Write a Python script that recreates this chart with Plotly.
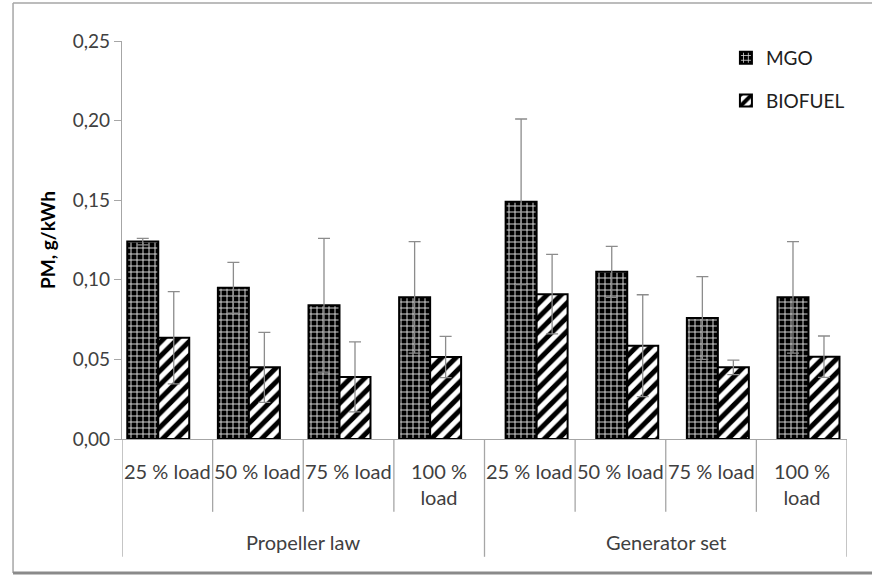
import plotly.graph_objects as go

# ---- data ----
groups = ["Propeller law", "Generator set"]
loads = ["25 % load", "50 % load", "75 % load", "100 %<br>load"]
categories = [f"{g}|{l}" for g in groups for l in loads]
category_labels = loads * 2

mgo = [0.124, 0.095, 0.084, 0.089, 0.149, 0.105, 0.076, 0.089]
mgo_err = [0.002, 0.016, 0.042, 0.035, 0.052, 0.016, 0.026, 0.035]
bio = [0.0636, 0.045, 0.039, 0.0515, 0.091, 0.0586, 0.045, 0.0517]
bio_err = [0.029, 0.022, 0.022, 0.013, 0.025, 0.032, 0.0046, 0.013]

y_ticks = [0, 0.05, 0.10, 0.15, 0.20, 0.25]

FONT = "Lato"
TXT = "#404040"
AX = "#a6a6a6"

n = len(categories)
xpos = list(range(n))

# bar placement (style): width per bar and slight per-group shift as in the original
BW = 0.342
shift = [-0.10 if i < 4 else 0.075 for i in range(n)]
off_mgo = [s - BW for s in shift]
off_bio = [s for s in shift]

fig = go.Figure()
fig.add_trace(go.Bar(
    x=xpos, y=mgo, name="MGO", legendgroup="mgo",
    width=BW, offset=off_mgo,
    marker=dict(color="black", line=dict(color="black", width=2),
                pattern=dict(shape="+", fgcolor="#d8d8d8", bgcolor="black",
                             size=6, solidity=0.3, fillmode="replace")),
    error_y=dict(type="data", array=mgo_err, visible=True, color="#8c8c8c",
                 thickness=1.3, width=6),
))
fig.add_trace(go.Bar(
    x=xpos, y=bio, name="BIOFUEL", legendgroup="bio",
    width=BW, offset=off_bio,
    marker=dict(color="white", line=dict(color="black", width=2),
                pattern=dict(shape="/", fgcolor="black", bgcolor="white",
                             size=10, solidity=0.5, fillmode="replace")),
    error_y=dict(type="data", array=bio_err, visible=True, color="#8c8c8c",
                 thickness=1.3, width=6),
))

shapes = []
annotations = []
# category dividers
for i in range(n + 1):
    outer = (i % 4 == 0)
    shapes.append(dict(type="line", xref="x", yref="paper",
                       x0=i - 0.5, x1=i - 0.5, y0=0,
                       y1=-0.296 if outer else -0.183,
                       line=dict(color=AX, width=1.3)))
# category labels
for i, lab in enumerate(category_labels):
    annotations.append(dict(x=i, y=-0.046, xref="x", yref="paper",
                            text=lab, showarrow=False, yanchor="top",
                            xanchor="center",
                            font=dict(family=FONT, size=20, color=TXT)))
# group labels
for gi, g in enumerate(groups):
    annotations.append(dict(x=gi * 4 + 1.5, y=-0.26, xref="x", yref="paper",
                            text=g, showarrow=False, yanchor="middle",
                            font=dict(family=FONT, size=20, color=TXT)))
# y-axis title
annotations.append(dict(x=-0.1034, y=0.5, xref="paper", yref="paper",
                        text="<b>PM, g/kWh</b>", showarrow=False,
                        textangle=-90, xanchor="center", yanchor="middle",
                        font=dict(family=FONT, size=19, color="black")))
# outer frame
shapes.append(dict(type="line", xref="paper", yref="paper",
                   x0=-0.1503, x1=-0.1503, y0=-0.3367, y1=1.0955,
                   line=dict(color=AX, width=1.5)))
shapes.append(dict(type="line", xref="paper", yref="paper",
                   x0=-0.1503, x1=1.06, y0=1.0955, y1=1.0955,
                   line=dict(color=AX, width=1.5)))
shapes.append(dict(type="line", xref="paper", yref="paper",
                   x0=-0.1503, x1=1.06, y0=-0.3367, y1=-0.3367,
                   line=dict(color="#8a8a8a", width=3)))

fig.update_layout(
    width=872, height=578,
    margin=dict(l=122, r=25, t=41, b=139),
    paper_bgcolor="white", plot_bgcolor="white",
    barmode="overlay",
    separators=", ",
    font=dict(family=FONT, size=18, color=TXT),
    showlegend=True,
    legend=dict(x=0.833, y=1.005, xanchor="left", yanchor="top",
                traceorder="grouped", tracegroupgap=15,
                font=dict(family=FONT, size=19, color="#202020"),
                bgcolor="rgba(0,0,0,0)"),
    xaxis=dict(range=[-0.5, n - 0.5], showticklabels=False, ticks="",
               showgrid=False, zeroline=False, showline=True,
               linecolor=AX, linewidth=1.3),
    yaxis=dict(range=[0, 0.25], tickvals=y_ticks, tickformat=".2f",
               ticks="outside", ticklen=7, tickcolor=AX, tickwidth=1.3,
               showgrid=False, zeroline=False, showline=True,
               linecolor=AX, linewidth=1.3,
               tickfont=dict(family=FONT, size=19, color=TXT)),
    shapes=shapes, annotations=annotations,
)

fig.write_html("out.html", config={"displayModeBar": False},
               post_script="document.body.style.margin='0px';")
